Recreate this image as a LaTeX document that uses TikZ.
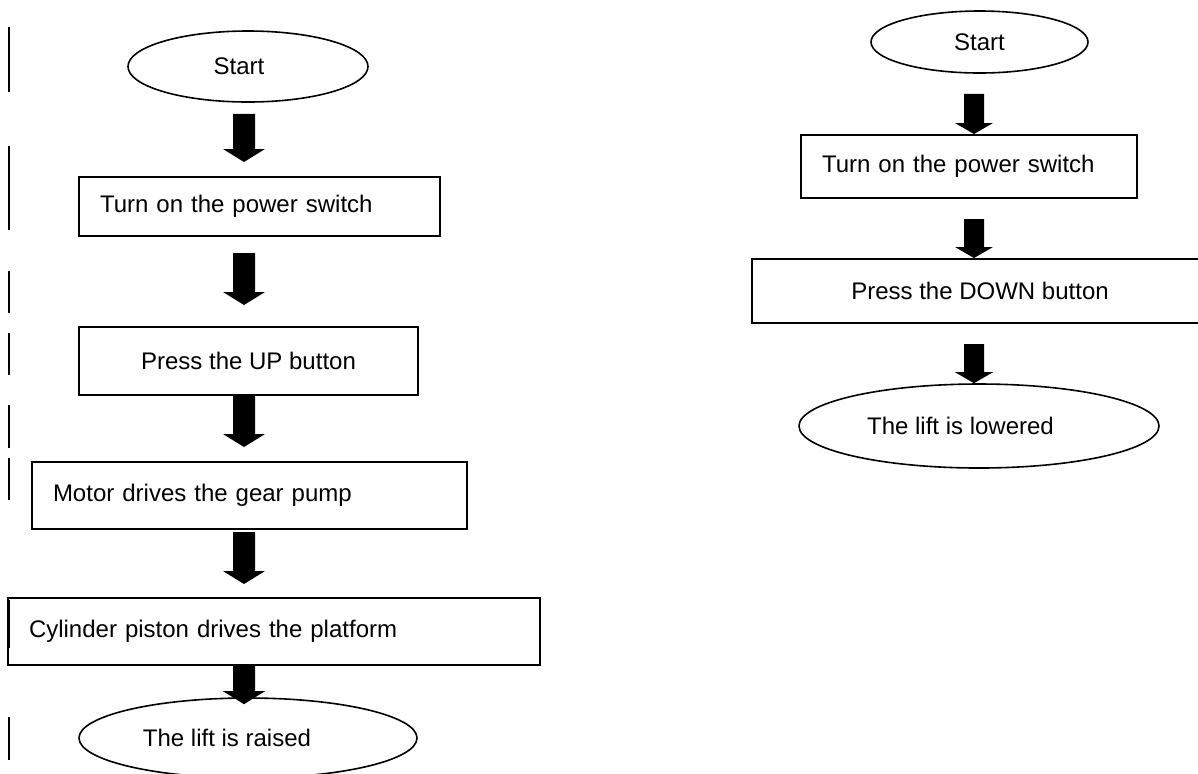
\documentclass[tikz,border=0pt]{standalone}
\usepackage{fontspec}
\setmainfont{Liberation Sans}
\usepackage{tikz}
\usetikzlibrary{calc}
\usepgflibrary{shapes.geometric}

\tikzset{
  fatarrow/.style n args={3}{fill=black, to path={
    let \p1=(\tikztostart), \p2=(\tikztotarget) in
    (\x1-#1,\y1) -- (\x1+#1,\y1) -- (\x1+#1,\y2+#3) -- (\x1+#2,\y2+#3)
    -- (\x1,\y2) -- (\x1-#2,\y2+#3) -- (\x1-#1,\y2+#3) -- cycle}},
  bigarrow/.style={fatarrow={5.5pt}{10.5pt}{6.5pt}},
  smallarrow/.style={fatarrow={5pt}{9.5pt}{5.5pt}},
  termnode/.style={draw, ellipse, inner sep=0pt, line width=0.8pt},
  stepbox/.style={draw, rectangle, line width=1pt, inner ysep=0pt},
  changebar/.style={line width=1pt}
}

\begin{document}
\begin{tikzpicture}[x=0.5pt, y=-0.5pt, font=\fontsize{12}{14}\selectfont]
  \useasboundingbox (0,0) rectangle (1198,773);
  \clip (0,0) rectangle (1198,773);

  % Barras al margen
  \foreach \a/\b in {27/92,146/230,271/313,333/375,405/448,458/500,600/648,717/760}
    \draw[changebar] (8.7,\a) -- (8.7,\b);

  % Columna izquierda: subir
  \node[termnode, minimum width=120pt, minimum height=35.5pt,
        label={[xshift=-4.5pt]center:Start}] (start1) at (248,66.5) {};
  \node[stepbox, minimum height=29.5pt, text width=159.5pt, inner xsep=10.5pt, align=left]
        (box1) at (259.5,206.5) {Turn on the power switch};
  \node[stepbox, minimum width=169.5pt, minimum height=34pt]
        (box2) at (248.5,361) {Press the UP button};
  \node[stepbox, minimum height=33.5pt, text width=196.5pt, inner xsep=10.5pt, align=left]
        (box3) at (249.5,495.5) {Motor drives the gear pump};
  \node[stepbox, minimum height=33.5pt, text width=245pt, inner xsep=10.5pt, align=left]
        (box4) at (274,631.5) {Cylinder piston drives the platform};
  \node[termnode, minimum width=169pt, minimum height=40pt,
        label={[xshift=-10.5pt]center:The lift is raised}] (end1) at (248,738) {};

  % Columna derecha: bajar
  \node[termnode, minimum width=108.5pt, minimum height=31pt] (start2) at (979.5,42) {Start};
  \node[stepbox, minimum height=31.5pt, text width=147pt, inner xsep=10.5pt, align=left]
        (box5) at (969,166.5) {Turn on the power switch};
  \node[stepbox, minimum width=228pt, minimum height=32pt]
        (box6) at (980,291) {Press the DOWN button};
  \node[termnode, minimum width=180pt, minimum height=42pt,
        label={[xshift=-9.25pt]center:The lift is lowered}] (end2) at (979,426) {};

  % Flechas
  \coordinate (colL) at (244,0);
  \coordinate (colR) at (974,0);
  \path[bigarrow] ([yshift=-5.5pt]colL |- start1.south) to ([yshift=7pt]colL |- box1.north);
  \path[bigarrow] ([yshift=-8pt]colL |- box1.south) to ([yshift=10.5pt]colL |- box2.north);
  \path[bigarrow] (colL |- box2.south) to ([yshift=7pt]colL |- box3.north);
  \path[bigarrow] ([yshift=-1pt]colL |- box3.south) to ([yshift=6.5pt]colL |- box4.north);
  \path[bigarrow] (colL |- box4.south) to ([yshift=-3.5pt]colL |- end1.north);

  \path[smallarrow] ([yshift=-10pt]colR |- start2.south) to (colR |- box5.north);
  \path[smallarrow] ([yshift=-10pt]colR |- box5.south) to (colR |- box6.north);
  \path[smallarrow] ([yshift=-10pt]colR |- box6.south) to (colR |- end2.north);
\end{tikzpicture}
\end{document}
